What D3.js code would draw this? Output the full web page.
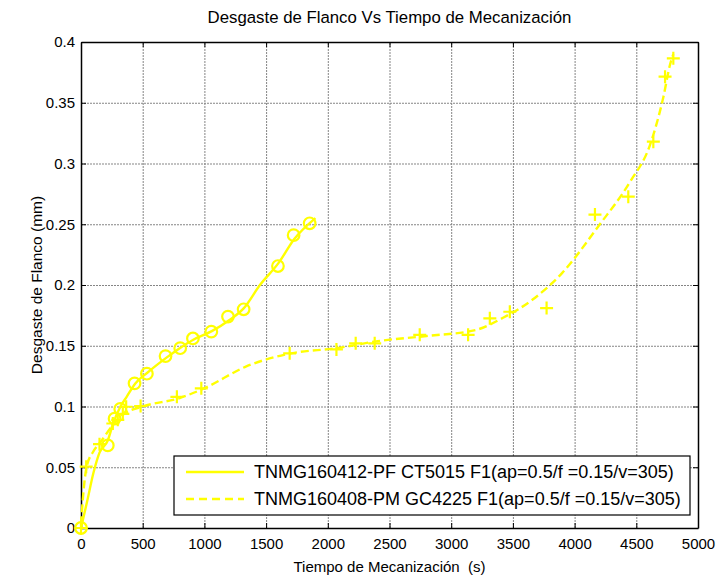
<!DOCTYPE html>
<meta charset='utf-8'>
<html>
<head>
<script src="https://d3js.org/d3.v7.min.js" charset="utf-8"></script>
<style>
  body { margin: 0; background: #fff; }
  text { font-family: Arial, "Liberation Sans", Helvetica, sans-serif; fill: #000; }
</style>
</head>
<body>
<div id="chart-container"></div>
<script>
// measured points (circles) - CT5015
const timeA = [0, 217, 272, 318, 434, 534, 685, 804, 907, 1056, 1191, 1318, 1596, 1723, 1853];
const wearA = [0, 0.068, 0.090, 0.098, 0.119, 0.127, 0.1415, 0.148, 0.156, 0.1616, 0.174, 0.180, 0.2156, 0.241, 0.2508];

// measured points (plus) - GC4225
const timeB = [0, 42, 150, 258, 298, 339, 366, 483, 777, 975, 1691, 2070, 2226, 2380, 2745, 3137, 3313, 3475, 3773, 4165, 4435, 4638, 4733, 4800];
const wearB = [0, 0.0505, 0.069, 0.086, 0.089, 0.094, 0.0998, 0.1004, 0.108, 0.115, 0.1438, 0.147, 0.152, 0.152, 0.159, 0.159, 0.1726, 0.178, 0.181, 0.258, 0.2727, 0.318, 0.3715, 0.3866];

// fitted curves
const fitTimeA = [0, 50, 100, 150, 217, 260, 320, 370, 440, 540, 690, 800, 910, 1060, 1200, 1320, 1450, 1600, 1730, 1900];
const fitWearA = [0, 0.022, 0.045, 0.062, 0.072, 0.086, 0.1, 0.108, 0.119, 0.128, 0.14, 0.148, 0.155, 0.162, 0.171, 0.181, 0.2, 0.218, 0.238, 0.255];
const fitTimeB = [0, 20, 45, 100, 160, 260, 350, 500, 800, 1000, 1340, 1690, 2070, 2420, 2800, 3200, 3420, 3660, 3900, 4190, 4450, 4610, 4720, 4775, 4800];
const fitWearB = [0.003, 0.03, 0.05, 0.063, 0.071, 0.085, 0.094, 0.1, 0.107, 0.115, 0.133, 0.1435, 0.148, 0.154, 0.158, 0.163, 0.173, 0.188, 0.21, 0.248, 0.285, 0.315, 0.355, 0.382, 0.39];

const xTicks = [0, 500, 1000, 1500, 2000, 2500, 3000, 3500, 4000, 4500, 5000];
const yTicks = [0, 0.05, 0.1, 0.15, 0.2, 0.25, 0.3, 0.35, 0.4];
const legendLabels = ['TNMG160412-PF CT5015 F1(ap=0.5/f =0.15/v=305)', 'TNMG160408-PM GC4225 F1(ap=0.5/f =0.15/v=305)'];

const svgWidth = 721, svgHeight = 579;
const margin = {top: 42, left: 81, bottom: 51, right: 23};
const w = svgWidth - margin.left - margin.right;
const h = svgHeight - margin.top - margin.bottom;
const yellow = '#ffff00';

const svg = d3.select('#chart-container').append('svg')
    .attr('width', svgWidth).attr('height', svgHeight);

const chart = svg.append('g')
    .attr('transform', 'translate(' + margin.left + ',' + margin.top + ')');

const xScale = d3.scaleLinear().domain([0, 5000]).range([0, w]);
const yScale = d3.scaleLinear().domain([0, 0.4]).range([h, 0]);

// grid
chart.append('g').attr('class', 'grid')
    .attr('transform', 'translate(0,' + h + ')')
    .call(d3.axisBottom(xScale).tickValues(xTicks).tickSize(-h).tickFormat(''));
chart.append('g').attr('class', 'grid')
    .call(d3.axisLeft(yScale).tickValues(yTicks).tickSize(-w).tickFormat(''));
chart.selectAll('.grid .domain').remove();
chart.selectAll('.grid line').attr('stroke', '#858585').attr('stroke-dasharray', '2,1');

// axes, ticks pointing inward on all 4 sides
const fmtY = d => d === 0 ? '0' : String(d);
const fmtX = d3.format('d');
chart.append('g').attr('transform', 'translate(0,' + h + ')')
    .call(d3.axisBottom(xScale).tickValues(xTicks).tickFormat(fmtX).tickSizeInner(-5).tickSizeOuter(0).tickPadding(10));
chart.append('g')
    .call(d3.axisLeft(yScale).tickValues(yTicks).tickFormat(fmtY).tickSizeInner(-5).tickSizeOuter(0).tickPadding(6));
chart.append('g')
    .call(d3.axisTop(xScale).tickValues(xTicks).tickSizeInner(-5).tickSizeOuter(0).tickFormat(''));
chart.append('g').attr('transform', 'translate(' + w + ',0)')
    .call(d3.axisRight(yScale).tickValues(yTicks).tickSizeInner(-5).tickSizeOuter(0).tickFormat(''));
chart.selectAll('.domain').attr('stroke', '#000').attr('stroke-width', 1.5);
chart.selectAll('.tick text').attr('font-size', 15).attr('font-family', 'Arial, "Liberation Sans", sans-serif');

// fitted lines
const line = d3.line()
    .x(d => xScale(d[0])).y(d => yScale(d[1]))
    .curve(d3.curveMonotoneX);

chart.append('path')
    .datum(fitTimeA.map((t, i) => [t, fitWearA[i]]))
    .attr('d', line).attr('fill', 'none')
    .attr('stroke', yellow).attr('stroke-width', 2.4);

chart.append('path')
    .datum(fitTimeB.map((t, i) => [t, fitWearB[i]]))
    .attr('d', line).attr('fill', 'none')
    .attr('stroke', yellow).attr('stroke-width', 2.4)
    .attr('stroke-dasharray', '8,4');

// markers
chart.selectAll('.mark-a')
    .data(timeA.map((t, i) => [t, wearA[i]]))
    .enter().append('circle')
    .attr('cx', d => xScale(d[0])).attr('cy', d => yScale(d[1]))
    .attr('r', 5.8).attr('fill', 'none')
    .attr('stroke', yellow).attr('stroke-width', 2.2);

chart.selectAll('.mark-b')
    .data(timeB.map((t, i) => [t, wearB[i]]))
    .enter().append('path')
    .attr('transform', d => 'translate(' + xScale(d[0]) + ',' + yScale(d[1]) + ')')
    .attr('d', 'M-6.5,0H6.5M0,-6.5V6.5')
    .attr('stroke', yellow).attr('stroke-width', 2.2);

// legend
const legend = svg.append('g').attr('transform', 'translate(174,456)');
legend.append('rect').attr('width', 516).attr('height', 59)
    .attr('fill', '#fff').attr('stroke', '#000').attr('stroke-width', 1.2);
legendLabels.forEach((lab, i) => {
    const y = 16 + i * 27;
    legend.append('line').attr('x1', 12).attr('x2', 70).attr('y1', y).attr('y2', y)
        .attr('stroke', yellow).attr('stroke-width', 2.6)
        .attr('stroke-dasharray', i === 1 ? '8,5' : null);
    legend.append('text').attr('x', 80).attr('y', y + 6)
        .attr('font-size', 18).text(lab);
});

// title and axis labels
svg.append('text').attr('x', margin.left + w / 2).attr('y', 23)
    .attr('text-anchor', 'middle').attr('font-size', 16.8)
    .text('Desgaste de Flanco Vs Tiempo de Mecanización');
svg.append('text').attr('x', margin.left + w / 2).attr('y', 572)
    .attr('text-anchor', 'middle').attr('font-size', 15)
    .style('white-space', 'pre')
    .text('Tiempo de Mecanización  (s)');
svg.append('text')
    .attr('transform', 'translate(42,' + (margin.top + h / 2) + ') rotate(-90)')
    .attr('text-anchor', 'middle').attr('font-size', 15.5)
    .text('Desgaste de Flanco (mm)');
</script>
</body>
</html>
